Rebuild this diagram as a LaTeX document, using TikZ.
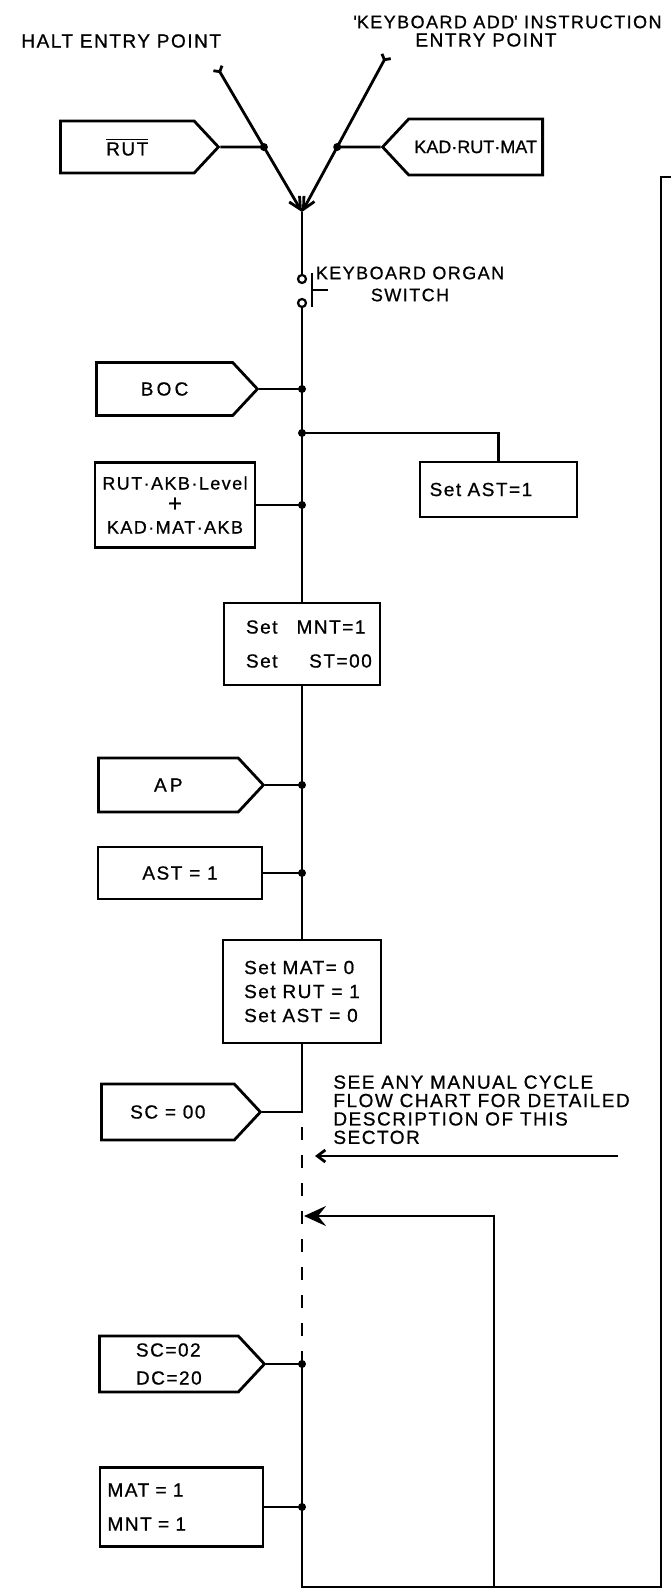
\documentclass[tikz,border=0pt]{standalone}
\usepackage{fontspec}
\setmainfont{Liberation Sans}[LetterSpace=8, FakeBold=0.8]
\usetikzlibrary{arrows.meta}
\usetikzlibrary{calc}
\usetikzlibrary{positioning}
\usetikzlibrary{shapes.symbols}

\begin{document}
\begin{tikzpicture}[x=0.5pt, y=-0.5pt,
    flow/.style={line width=1.4pt},
    lbl/.style={inner sep=0pt, font=\fontsize{9.5}{9.5}\selectfont},
    txt/.style={font=\fontsize{9.5}{12}\selectfont},
    inr/.style={draw, flow, txt, signal, signal to=east, signal pointer angle=94, inner xsep=1pt, inner ysep=2pt},
    inl/.style={inr, signal to=west},
    blk/.style={draw, flow, txt, rectangle, inner sep=2pt},
    swc/.style={circle, draw, line width=1.1pt, inner sep=0pt, minimum size=4pt},
    dashline/.style={flow, dash pattern=on 6.5pt off 7.5pt, dash phase=6.5pt}]

    % Rahmen der Seite
    \useasboundingbox (0,0) rectangle (670,1588);

    % Einsprungpunkte oben
    \node[lbl, anchor=west] (haltlbl) at (21,41) {HALT ENTRY POINT};
    \node[lbl, anchor=west, font=\fontsize{9}{9}\selectfont] (kadlbl) at (353,22) {\textquotesingle KEYBOARD ADD\textquotesingle\ INSTRUCTION};
    \node[lbl, anchor=west] (kadlbl2) at (415,40) {ENTRY POINT};

    \coordinate (halt) at (217,67);
    \coordinate (kadin) at (387,55);
    \coordinate (merge) at (302,212);
    \coordinate (jrut) at ($(halt)!0.552!(merge)$);
    \coordinate (jkad) at ($(kadin)!0.586!(merge)$);

    \draw[flow, {Straight Barb[reversed, length=2pt, width=5pt]}-{Straight Barb[length=6pt, width=6pt]}] (halt) -- (merge);
    \draw[flow, {Straight Barb[reversed, length=2pt, width=5pt]}-{Straight Barb[length=6pt, width=6pt]}] (kadin) -- (merge);

    \node[inr, anchor=west, minimum width=79pt, minimum height=26pt] (rut) at (59,147) {$\overline{\hbox{RUT}}$};
    \node[inl, anchor=east, minimum width=80pt, minimum height=28pt, font=\fontsize{9}{12}\selectfont\addfontfeatures{LetterSpace=0}] (kad) at (544,147) {KAD·RUT·MAT};
    \draw[flow] (rut.east) -- (jrut);
    \draw[flow] (kad.west) -- (jkad);

    % Schalter
    \node[swc] (s1) at (302,279) {};
    \node[swc] (s2) at (302,303) {};
    \draw[flow] (merge) -- (s1.north);
    \draw[flow] (312,273) -- (312,307);
    \draw[flow] (312,290) -- (328,290);
    \node[lbl, align=center, font=\fontsize{9}{9}\selectfont] (swlbl) at (410,284) {KEYBOARD ORGAN\\[2pt]SWITCH};

    % Verzweigungspunkte auf der Hauptlinie
    \coordinate (jboc) at (302,389);
    \coordinate (jast) at (302,433);
    \coordinate (jrak) at (302,505);
    \coordinate (jap) at (302,785);
    \coordinate (jast1) at (302,873);
    \coordinate (jsc00) at (302,1112);
    \coordinate (jsc02) at (302,1364);
    \coordinate (jmat) at (302,1507);
    \coordinate (jbot) at (302,1587);
    \coordinate (jloop) at (494,1587);
    \coordinate (fbr) at (661,1587);
    \coordinate (ftr) at (661,177);
    \coordinate (ftr2) at (680,177);
    \coordinate (loopin) at (304,1216);
    \coordinate (noter) at (618,1156);
    \coordinate (notel) at (315,1156);

    % Kaesten
    \node[inr, anchor=west, minimum width=80.5pt, minimum height=26.5pt] (boc) at (95,389) {B\,O\,C};
    \node[blk, minimum width=78.5pt, minimum height=27.5pt, text width=72pt, align=left] (setast) at (498.5,489.5) {\,Set AST=1};
    \node[blk, minimum width=80pt, minimum height=42.5pt, align=center, inner xsep=1pt, font=\fontsize{9}{11}\selectfont] (rak) at (175,505) {RUT·AKB·Level\\{\large +}\\KAD·MAT·AKB};
    \node[blk, minimum width=78pt, minimum height=41pt, text width=74pt, align=left, font=\fontsize{9.5}{17}\selectfont] (setmnt) at (302,644) {\hspace*{9pt}Set\quad MNT=1\\\hspace*{9pt}Set\quad\ \ ST=00};
    \node[inr, anchor=west, minimum width=82.5pt, minimum height=27pt] (ap) at (97,785) {A\,P};
    \node[blk, minimum width=82pt, minimum height=26pt] (ast1) at (180,873) {AST = 1};
    \node[blk, minimum width=79pt, minimum height=51.5pt, align=left] (setmat) at (302,991.5) {Set MAT= 0\\Set RUT = 1\\Set AST = 0};
    \node[inr, anchor=west, minimum width=79.5pt, minimum height=28pt] (sc00) at (100,1112) {SC = 00};
    \node[inr, anchor=west, minimum width=82.5pt, minimum height=28pt, align=left, font=\fontsize{9.5}{14}\selectfont] (sc02) at (98,1364) {SC=02\\DC=20\hspace{8pt}};
    \node[blk, minimum width=81.5pt, minimum height=39.5pt, text width=74pt, align=left, font=\fontsize{9.5}{17}\selectfont] (matmnt) at (181.5,1507) {MAT = 1\\MNT = 1};

    % Hauptlinie
    \draw[flow] (s2.south) -- (setmnt.north);
    \draw[flow] (setmnt.south) -- (setmat.north);
    \draw[flow] (setmat.south) -- (jsc00) -- (sc00.east);
    \draw[dashline] (jsc00) -- (jsc02);
    \draw[flow] (jsc02) -- (jbot) -- (fbr) -- (ftr) -- (ftr2);

    % Zweige
    \draw[flow] (boc.east) -- (jboc);
    \draw[flow] (jast) -| (setast.north);
    \draw[flow] (rak.east) -- (jrak);
    \draw[flow] (ap.east) -- (jap);
    \draw[flow] (ast1.east) -- (jast1);
    \draw[flow] (sc02.east) -- (jsc02);
    \draw[flow] (matmnt.east) -- (jmat);

    % Ruecklauf
    \draw[flow, -{Stealth[length=11pt, width=10pt, inset=4pt]}] (jloop) |- (loopin);
    \draw[flow, -{Straight Barb[length=4pt, width=6pt]}] (noter) -- (notel);
    \node[lbl, anchor=north west, align=left, font=\fontsize{9.5}{9.2}\selectfont] (note) at (333,1075) {SEE ANY MANUAL CYCLE\\FLOW CHART FOR DETAILED\\DESCRIPTION OF THIS\\SECTOR};

    % Punkte
    \foreach \j in {jrut, jkad, jboc, jast, jrak, jap, jast1, jsc02, jmat} {
        \fill (\j) circle (2pt);
    }
\end{tikzpicture}
\end{document}
